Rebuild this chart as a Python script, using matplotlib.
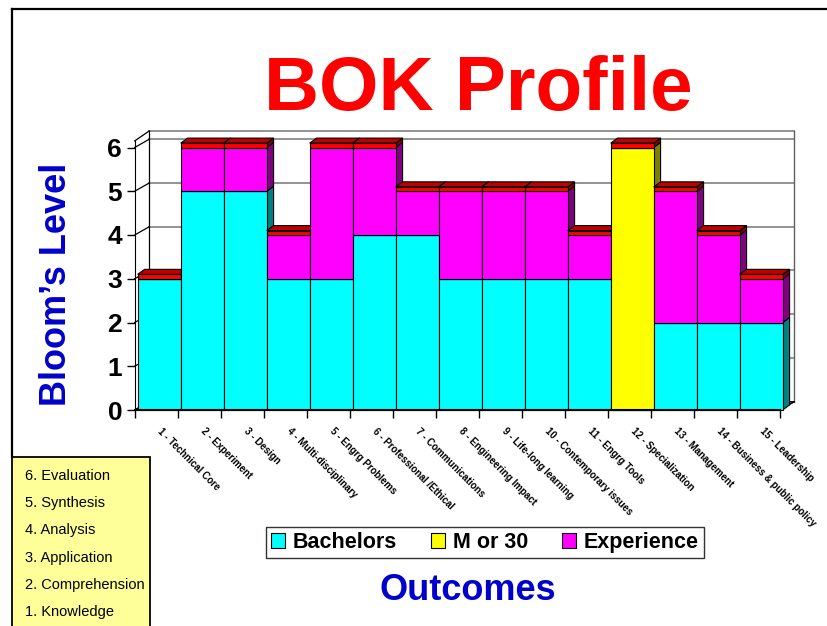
import matplotlib
matplotlib.use("Agg")
import matplotlib.pyplot as plt
from matplotlib.patches import Polygon, Patch, Rectangle
from matplotlib.lines import Line2D

plt.rcParams['font.family'] = ['Liberation Sans', 'DejaVu Sans']

# ---------------- data ----------------
outcomes = ["1 - Technical Core", "2 - Experiment", "3 - Design", "4 - Multi-disciplinary",
            "5 - Engrg Problems", "6 - Professional /Ethical", "7 - Communications",
            "8 - Engineering Impact", "9 - Life-long learning", "10 - Contemporary issues",
            "11 - Engrg Tools", "12 - Specialization", "13 - Management",
            "14 - Business & public policy", "15 - Leadership"]
bachelors  = [3, 5, 5, 3, 3, 4, 4, 3, 3, 3, 3, 0, 2, 2, 2]
m_or_30    = [0, 0, 0, 0, 0, 0, 0, 0, 0, 0, 0, 6, 0, 0, 0]
experience = [0, 1, 1, 1, 3, 2, 1, 2, 2, 2, 1, 0, 3, 2, 1]
cap        = [0.1, 0.1, 0.1, 0.1, 0.1, 0.1, 0.1, 0.1, 0.1, 0.1, 0.1, 0.1, 0.1, 0.1, 0.1]
series_names = ["Bachelors", "M or 30", "Experience"]
yticks = [0, 1, 2, 3, 4, 5, 6]
bloom_levels = ["6. Evaluation", "5. Synthesis", "4. Analysis", "3. Application",
                "2. Comprehension", "1. Knowledge"]

# ---------------- style ----------------
front_cols = ['#00FFFF', '#FFFF00', '#FF00FF', '#FF0000']
side_cols = ['#008080', '#808000', '#800080', '#800000']
top_col = '#C00000'
BDX, BDY = 0.16, 0.115      # bar depth (data units)
WDX, WDY = 0.27, 0.19       # back wall offset
FDX = -0.07                 # front frame offset
YTOP = 6.38

W, H = 827, 626
fig = plt.figure(figsize=(W / 100, H / 100), dpi=100)

xl, xr, yb, yt = 0.3, 16.0, -0.2, 6.6
px_x, px_y = 43.0, 43.75
left_px = 137.7 - (0.5 - xl) * px_x
right_px = 137.7 + (xr - 0.5) * px_x
bot_px = 410 - yb * px_y
top_px = 410 - yt * px_y
ax = fig.add_axes([left_px / W, 1 - bot_px / H, (right_px - left_px) / W, (bot_px - top_px) / H])
ax.set_xlim(xl, xr)
ax.set_ylim(yb, yt)
ax.patch.set_visible(False)

n = len(outcomes)
x = list(range(1, n + 1))
x0f, x1f = 0.5 + FDX, n + 0.5 + FDX
x0b, x1b = 0.5 + WDX, n + 0.5 + WDX

# floor
ax.add_patch(Polygon([(x0f, 0), (x1f, 0), (x1b, WDY), (x0b, WDY)], closed=True,
                     facecolor='#808080', edgecolor='black', lw=0.8, zorder=2))
# back wall grid
for k in yticks:
    ax.plot([x0b, x1b], [k + WDY, k + WDY], color='#808080', lw=1.2, zorder=1)
    ax.plot([x0f, x0b], [k, k + WDY], color='black', lw=0.9, zorder=1)
ax.plot([x0b, x1b], [YTOP, YTOP], color='#808080', lw=1.2, zorder=1)
ax.plot([x0b, x0b], [WDY, YTOP], color='black', lw=0.9, zorder=1)
ax.plot([x1b, x1b], [WDY, YTOP], color='#606060', lw=1.0, zorder=1)
ax.plot([x0f, x0b], [YTOP - WDY - 0.04, YTOP], color='black', lw=0.9, zorder=1)
ax.plot([x1f, x1b], [0, WDY], color='black', lw=0.9, zorder=3)

# bars
stack = [bachelors, m_or_30, experience, cap]
bottoms = [0.0] * n
for s, vals in enumerate(stack):
    bars = ax.bar(x, vals, width=1.0, bottom=bottoms, color=front_cols[s],
                  edgecolor='black', linewidth=0.8)
    for i, (b, v) in enumerate(zip(bars, vals)):
        b.set_zorder(11 + 2 * i)
        if v > 0:
            xr_ = x[i] + 0.5
            y0, y1 = bottoms[i], bottoms[i] + v
            ax.add_patch(Polygon([(xr_, y0), (xr_, y1), (xr_ + BDX, y1 + BDY), (xr_ + BDX, y0 + BDY)],
                                 closed=True, facecolor=side_cols[s], edgecolor='black',
                                 lw=0.8, zorder=10 + 2 * i))
    bottoms = [bt + v for bt, v in zip(bottoms, vals)]

for i in range(n):
    h = bottoms[i]
    xa, xb = x[i] - 0.5, x[i] + 0.5
    ax.add_patch(Polygon([(xa, h), (xb, h), (xb + BDX, h + BDY), (xa + BDX, h + BDY)],
                         closed=True, facecolor=top_col, edgecolor='black', lw=0.8,
                         zorder=10 + 2 * i))

# axes spines / ticks
for sp in ['top', 'right']:
    ax.spines[sp].set_visible(False)
ax.spines['left'].set_position(('data', x0f))
ax.spines['left'].set_bounds(0, YTOP - WDY - 0.04)
ax.spines['bottom'].set_position(('data', 0))
ax.spines['bottom'].set_bounds(x0f, x1f)
ax.spines['bottom'].set_linewidth(1.5)
ax.spines['bottom'].set_zorder(60)
ax.set_yticks(yticks)
ax.set_yticklabels([str(t) for t in yticks], fontsize=19, fontweight='bold')
ax.tick_params(axis='y', direction='out', length=6, width=1, pad=3)
ax.set_xticks(x)
ax.set_xticklabels(outcomes, rotation=-45, ha='left', va='center', rotation_mode='anchor',
                   fontsize=7, fontweight='bold')
ax.tick_params(axis='x', which='major', length=0, pad=14)
ax.set_xticks([x0f + k for k in range(n + 1)], minor=True)
ax.tick_params(axis='x', which='minor', direction='out', length=6, width=1)

# titles
fig.text(478 / W, 1 - 110 / H, "BOK Profile", color='#FF0000', fontsize=55,
         fontweight='bold', ha='center', va='baseline')
fig.text(57 / W, 1 - 284 / H, "Bloom\u2019s Level", color='#0000CC', fontsize=26,
         fontweight='bold', rotation=90, ha='center', va='center')
fig.text(468 / W, 1 - 591 / H, "Outcomes", color='#0000CC', fontsize=26,
         fontweight='bold', ha='center', va='center')

# legend
handles = [Patch(facecolor=front_cols[s], edgecolor='black', lw=0.8) for s in range(3)]
leg = fig.legend(handles, series_names, loc='center', bbox_to_anchor=(485 / W, 1 - 542.5 / H),
                 ncol=3, fancybox=False, frameon=True, edgecolor='black',
                 prop={'weight': 'bold', 'size': 15.5}, handlelength=0.65, handleheight=0.65,
                 handletextpad=0.35, columnspacing=1.6, borderpad=0.25, borderaxespad=0)
leg.get_frame().set_linewidth(1.0)
leg.set_zorder(100)

# border lines
fig.add_artist(Line2D([12 / W, 1.0], [1 - 9 / H, 1 - 9 / H], color='black', lw=1.6))
fig.add_artist(Line2D([12 / W, 12 / W], [1 - 9 / H, 1 - 457 / H], color='black', lw=1.6))

# Bloom level box
fig.add_artist(Rectangle((12.3 / W, -0.01), (150 - 12.3) / W, (626 - 457.3) / H + 0.01,
                         facecolor='#FFFF99', edgecolor='black', lw=1.3,
                         transform=fig.transFigure))
for j, lab in enumerate(bloom_levels):
    fig.text(25 / W, 1 - (476 + 27.2 * j) / H, lab, fontsize=10.5, ha='left', va='center')

fig.savefig("out.png", dpi=100)
